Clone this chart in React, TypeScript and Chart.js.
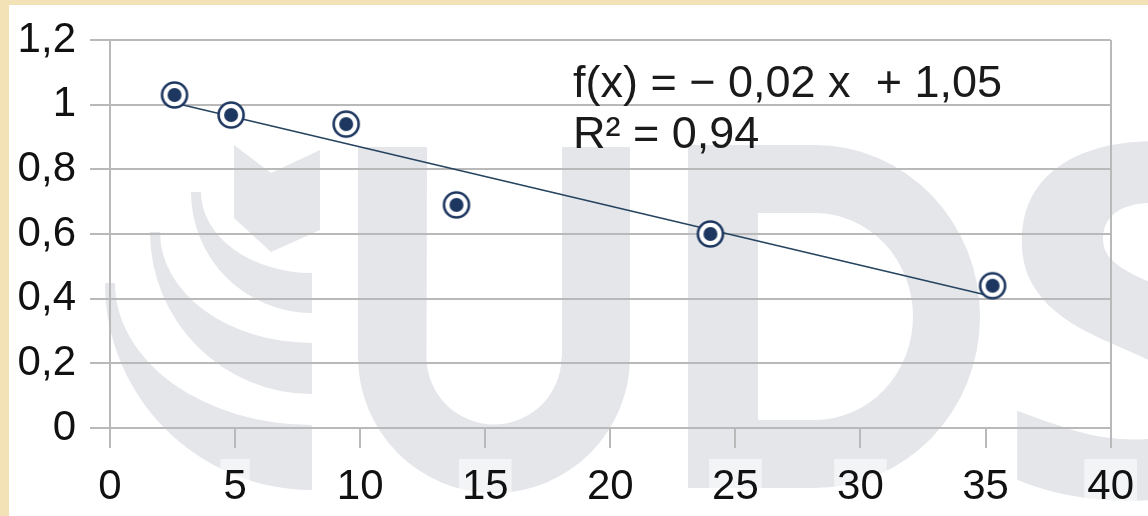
import React, { useEffect, useRef } from "react";
import { Chart, registerables } from "chart.js";

Chart.register(...registerables);

// Measured samples
const xValues = [2.58, 4.84, 9.44, 13.85, 24.0, 35.28];
const yValues = [1.03, 0.968, 0.94, 0.69, 0.6, 0.44];

// Axis ranges and steps
const xTicks = { min: 0, max: 40, step: 5 };
const yTicks = { min: 0, max: 1.2, step: 0.2 };

// Trend label lines
const equationLines = ["f(x) = \u2212 0,02 x  + 1,05", "R\u00B2 = 0,94"];

const NAVY = "#1e3760";
const GRID = "#b9b9b9";
const MARK = "#e4e6ea";
const FONT = '"Liberation Sans", Arial, sans-serif';

// Least-squares fit of y on x
function linearFit(xs: number[], ys: number[]) {
  const n = xs.length;
  const mx = xs.reduce((s, v) => s + v, 0) / n;
  const my = ys.reduce((s, v) => s + v, 0) / n;
  let sxy = 0;
  let sxx = 0;
  for (let i = 0; i < n; i++) {
    sxy += (xs[i] - mx) * (ys[i] - my);
    sxx += (xs[i] - mx) * (xs[i] - mx);
  }
  const slope = sxy / sxx;
  return { slope, intercept: my - slope * mx };
}

// Ring-and-dot marker
function makeMarker(): HTMLCanvasElement {
  const c = document.createElement("canvas");
  c.width = 32;
  c.height = 32;
  const g = c.getContext("2d")!;
  g.beginPath();
  g.arc(16, 16, 12.5, 0, Math.PI * 2);
  g.fillStyle = "#ffffff";
  g.fill();
  g.lineWidth = 2.6;
  g.strokeStyle = NAVY;
  g.stroke();
  g.beginPath();
  g.arc(16, 16, 7, 0, Math.PI * 2);
  g.fillStyle = NAVY;
  g.fill();
  return c;
}

const fmt = (v: number) => String(Math.round(v * 10) / 10).replace(".", ",");

// Page frame and the faint "UDS" emblem behind the plot
const backdropPlugin = {
  id: "backdrop",
  beforeDraw(chart: Chart) {
    const ctx = chart.ctx;
    const W = chart.width;
    const H = chart.height;
    ctx.save();
    ctx.fillStyle = "#ffffff";
    ctx.fillRect(0, 0, W, H);
    ctx.fillStyle = "#f3e2b6";
    ctx.fillRect(0, 0, W, 5);
    ctx.fillRect(0, 0, 9, H);

    ctx.fillStyle = MARK;
    // chevron
    ctx.beginPath();
    ctx.moveTo(234, 145);
    ctx.lineTo(271, 173);
    ctx.lineTo(320, 150);
    ctx.lineTo(320, 230);
    ctx.lineTo(271, 252);
    ctx.lineTo(234, 218);
    ctx.closePath();
    ctx.fill();

    // concentric crescent bands, tapering toward their upper tips
    const bands = [
      { cy: 192, ro: 121, ri: 81 },
      { cy: 232, ro: 162, ri: 111 },
      { cy: 283, ro: 207, ri: 142 },
    ];
    const cx = 312;
    for (const b of bands) {
      ctx.beginPath();
      ctx.moveTo(cx - b.ro, b.cy);
      ctx.arc(cx, b.cy, b.ro, Math.PI, Math.PI / 2, true);
      ctx.lineTo(cx, b.cy + b.ri);
      ctx.ellipse(cx, b.cy, b.ro - 10, b.ri, 0, Math.PI / 2, Math.PI, false);
      ctx.closePath();
      ctx.fill();
    }

    // U
    ctx.beginPath();
    ctx.moveTo(358, 147);
    ctx.lineTo(358, 357);
    ctx.arc(494, 357, 136, Math.PI, 0, true);
    ctx.lineTo(630, 147);
    ctx.lineTo(562, 147);
    ctx.lineTo(562, 357);
    ctx.arc(494, 357, 67.5, 0, Math.PI, false);
    ctx.lineTo(427, 147);
    ctx.closePath();
    ctx.fill();

    // D
    ctx.beginPath();
    ctx.moveTo(688, 145);
    ctx.lineTo(815, 145);
    ctx.ellipse(815, 316.5, 165, 171.5, 0, -Math.PI / 2, Math.PI / 2, false);
    ctx.lineTo(688, 488);
    ctx.closePath();
    ctx.moveTo(758, 213);
    ctx.lineTo(815, 213);
    ctx.ellipse(815, 316.5, 98, 103.5, 0, -Math.PI / 2, Math.PI / 2, false);
    ctx.lineTo(758, 420);
    ctx.closePath();
    ctx.fill("evenodd");

    // S, slightly widened
    ctx.translate(992, 496);
    ctx.scale(1.12, 1);
    ctx.font = 'bold 490px "Open Sans", sans-serif';
    ctx.textAlign = "left";
    ctx.textBaseline = "alphabetic";
    ctx.fillText("S", 0, 0);
    ctx.restore();
  },
};

// Regression equation text
const equationPlugin = {
  id: "equation",
  afterDraw(chart: Chart) {
    const ctx = chart.ctx;
    ctx.save();
    ctx.fillStyle = "#1a1a1a";
    ctx.textAlign = "left";
    ctx.textBaseline = "alphabetic";
    ctx.font = `45px ${FONT}`;
    const x0 = chart.chartArea.left + 463;
    ctx.fillText(equationLines[0], x0, 97);
    ctx.fillText(equationLines[1], x0, 148);
    ctx.restore();
  },
};

export default function App() {
  const ref = useRef<HTMLCanvasElement | null>(null);

  useEffect(() => {
    const canvas = ref.current;
    if (!canvas) return;
    const fit = linearFit(xValues, yValues);
    const first = xValues[0];
    const last = xValues[xValues.length - 1];
    const points = xValues.map((x, i) => ({ x, y: yValues[i] }));
    const trend = [
      { x: first, y: fit.intercept + fit.slope * first },
      { x: last, y: fit.intercept + fit.slope * last },
    ];

    const chart = new Chart(canvas, {
      type: "scatter",
      data: {
        datasets: [
          {
            data: trend,
            showLine: true,
            borderColor: "#26435f",
            borderWidth: 1.6,
            pointRadius: 0,
            order: 2,
          },
          {
            data: points,
            pointStyle: makeMarker(),
            pointRadius: 16,
            order: 1,
          },
        ],
      },
      options: {
        animation: false,
        responsive: false,
        devicePixelRatio: 1,
        layout: { padding: { top: 40, right: 29, left: 0, bottom: 0 } },
        plugins: { legend: { display: false }, tooltip: { enabled: false } },
        scales: {
          x: {
            type: "linear",
            min: xTicks.min,
            max: xTicks.max,
            afterFit: (s: any) => {
              s.height = 88;
            },
            ticks: {
              stepSize: xTicks.step,
              color: "#111111",
              font: { size: 42, family: FONT },
              padding: 14,
              maxRotation: 0,
              callback: (v: any) => fmt(Number(v)),
              showLabelBackdrop: true,
              backdropColor: "rgba(255,255,255,0.55)",
              backdropPadding: 3,
            } as any,
            grid: {
              color: (c: any) =>
                c.tick && (c.tick.value === xTicks.min || c.tick.value === xTicks.max)
                  ? GRID
                  : "rgba(0,0,0,0)",
              tickColor: GRID,
              tickLength: 20,
              lineWidth: 2,
            },
            border: { display: false },
          },
          y: {
            type: "linear",
            min: yTicks.min,
            max: yTicks.max,
            afterFit: (s: any) => {
              s.width = 110;
            },
            ticks: {
              stepSize: yTicks.step,
              color: "#111111",
              font: { size: 42, family: FONT },
              padding: 14,
              callback: (v: any) => fmt(Number(v)),
              showLabelBackdrop: true,
              backdropColor: "rgba(255,255,255,0.55)",
              backdropPadding: 3,
            } as any,
            grid: {
              color: GRID,
              tickColor: GRID,
              tickLength: 20,
              lineWidth: 2,
            },
            border: { display: true, color: GRID, width: 2 },
          },
        },
      },
      plugins: [backdropPlugin, equationPlugin],
    });
    return () => chart.destroy();
  }, []);

  return (
    <div style={{ position: "fixed", left: 0, top: 0, width: 1148, height: 516 }}>
      <canvas ref={ref} width={1148} height={516} />
    </div>
  );
}
